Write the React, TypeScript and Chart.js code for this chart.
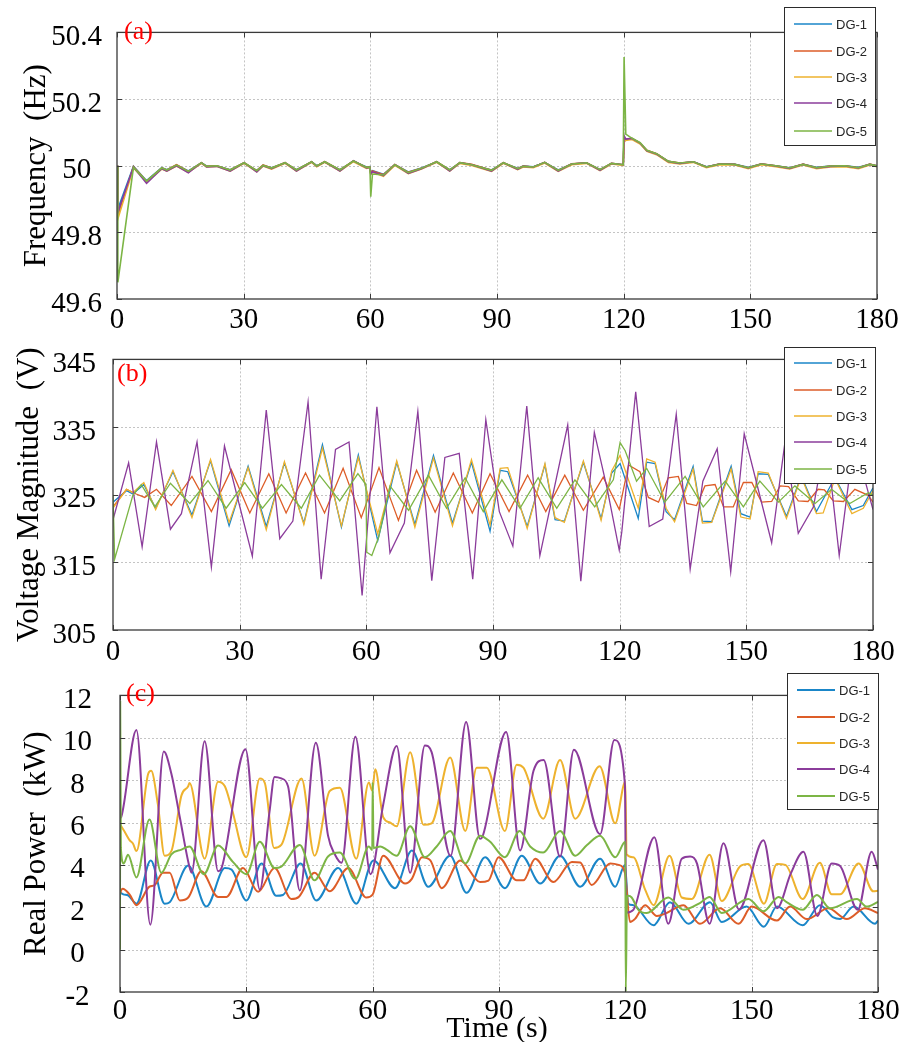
import React, { useEffect, useRef } from 'react';
import { Chart, registerables } from 'chart.js';

Chart.register(...registerables);

const SERIF = '"Liberation Serif", "Times New Roman", serif';
const SANS = '"Liberation Sans", Arial, sans-serif';

const seriesNames = ['DG-1', 'DG-2', 'DG-3', 'DG-4', 'DG-5'];
const seriesColors = ['#1a86c8', '#dd5d28', '#eeb22e', '#8b3c9b', '#7cb545'];

const timeTicks = [0, 30, 60, 90, 120, 150, 180];
const freqTicks = [49.6, 49.8, 50, 50.2, 50.4];
const voltTicks = [305, 315, 325, 335, 345];
const powerTicks = [-2, 0, 2, 4, 6, 8, 10, 12];

// ---------- (a) Frequency (Hz) ----------
const freqTime = [
  0, 0.2, 3.9, 7.0, 10.6, 11.8, 14.1, 16.9, 20.0, 21.2,
  23.6, 26.8, 30.1, 33.1, 34.6, 36.6, 39.8, 42.5, 46.1, 47.3,
  49.2, 52.8, 56.0, 59.1, 59.9, 60.1, 60.5, 63.1, 65.8, 69.0,
  72.1, 75.7, 78.8, 81.2, 84.0, 88.7, 91.5, 94.9, 96.2, 98.6,
  101.3, 104.5, 107.7, 111.2, 114.4, 117.1, 119.9, 120.1, 120.5, 121.9,
  123.9, 125.5, 127.8, 130.6, 133.3, 136.5, 139.6, 142.8, 146.3, 149.5,
  152.6, 156.0, 159.3, 162.5, 165.7, 169.0, 172.4, 175.6, 178.3, 180,
];
const freqDG1 = [
  50.0, 49.87, 49.998, 49.955, 49.994, 49.988, 50.002, 49.984, 50.008, 49.999,
  50.0, 49.988, 50.008, 49.986, 50.001, 49.994, 50.008, 49.988, 50.011, 50.0,
  50.011, 49.988, 50.013, 49.996, 49.997, 49.978, 49.985, 49.974, 50.003, 49.981,
  49.993, 50.011, 49.988, 50.008, 50.003, 49.987, 50.008, 49.992, 49.999, 49.997,
  50.009, 49.987, 50.005, 50.008, 49.989, 50.006, 50.003, 50.085, 50.078, 50.081,
  50.067, 50.045, 50.035, 50.013, 50.007, 50.012, 49.997, 50.005, 50.004, 49.995,
  50.005, 50.0, 49.994, 50.004, 49.995, 49.999, 50.0, 49.995, 50.004, 50.0,
];
const freqDG2 = [
  50.0, 49.85, 49.997, 49.953, 49.993, 49.987, 50.003, 49.983, 50.009, 49.998,
  50.0, 49.987, 50.009, 49.985, 50.002, 49.993, 50.009, 49.987, 50.012, 49.999,
  50.012, 49.987, 50.014, 49.995, 49.996, 49.977, 49.984, 49.973, 50.004, 49.98,
  49.992, 50.012, 49.987, 50.009, 50.004, 49.986, 50.009, 49.991, 49.999, 49.996,
  50.01, 49.986, 50.006, 50.009, 49.988, 50.007, 50.003, 50.07, 50.079, 50.082,
  50.068, 50.046, 50.036, 50.013, 50.008, 50.012, 49.996, 50.006, 50.004, 49.994,
  50.006, 50.0, 49.993, 50.005, 49.994, 49.999, 50.0, 49.994, 50.005, 50.0,
];
const freqDG3 = [
  50.0, 49.84, 49.993, 49.952, 49.99, 49.984, 49.999, 49.98, 50.007, 49.996,
  49.998, 49.984, 50.007, 49.982, 49.999, 49.99, 50.007, 49.984, 50.01, 49.997,
  50.01, 49.984, 50.012, 49.992, 49.994, 49.974, 49.981, 49.968, 50.001, 49.976,
  49.99, 50.01, 49.984, 50.007, 50.001, 49.983, 50.007, 49.988, 49.996, 49.994,
  50.008, 49.983, 50.003, 50.007, 49.985, 50.005, 50.001, 50.08, 50.076, 50.079,
  50.065, 50.043, 50.033, 50.01, 50.005, 50.01, 49.994, 50.003, 50.002, 49.991,
  50.003, 49.997, 49.99, 50.002, 49.991, 49.996, 49.997, 49.991, 50.002, 49.997,
];
const freqDG4 = [
  50.0, 49.86, 49.996, 49.947, 49.991, 49.984, 50.0, 49.979, 50.009, 49.996,
  49.998, 49.984, 50.009, 49.981, 50.0, 49.991, 50.009, 49.984, 50.012, 49.998,
  50.012, 49.984, 50.015, 49.993, 49.995, 49.975, 49.982, 49.97, 50.003, 49.977,
  49.991, 50.012, 49.984, 50.009, 50.003, 49.984, 50.009, 49.989, 49.998, 49.996,
  50.01, 49.984, 50.005, 50.009, 49.986, 50.007, 50.003, 50.09, 50.08, 50.082,
  50.068, 50.045, 50.035, 50.012, 50.007, 50.012, 49.996, 50.005, 50.004, 49.993,
  50.005, 49.999, 49.992, 50.004, 49.993, 49.998, 49.999, 49.993, 50.004, 49.999,
];
const freqDG5 = [
  50.0, 49.65, 49.995, 49.954, 49.993, 49.987, 50.002, 49.983, 50.009, 49.998,
  50.0, 49.987, 50.009, 49.985, 50.001, 49.993, 50.009, 49.987, 50.012, 49.999,
  50.012, 49.987, 50.014, 49.995, 49.996, 49.907, 49.975, 49.972, 50.003, 49.979,
  49.992, 50.012, 49.987, 50.009, 50.003, 49.986, 50.009, 49.991, 49.998, 49.996,
  50.01, 49.986, 50.005, 50.009, 49.988, 50.007, 50.003, 50.326, 50.095, 50.083,
  50.069, 50.046, 50.036, 50.013, 50.008, 50.012, 49.996, 50.005, 50.004, 49.994,
  50.005, 50.0, 49.993, 50.004, 49.994, 49.999, 50.0, 49.994, 50.004, 50.0,
];

// ---------- (b) Voltage Magnitude (V): [time, value] vertices ----------
const voltDG1 = [
  [0, 323.9], [3.2, 325.6], [4.7, 325.1], [7.3, 326.5], [10.1, 323.0], [14.2, 328.4], [18.7, 322.0],
  [23.1, 330.0], [27.5, 320.4], [32.0, 329.2], [36.3, 320.3], [40.6, 329.7], [45.2, 320.8], [49.6, 332.4],
  [54.1, 320.2], [58.1, 330.9], [62.7, 318.2], [67.2, 329.8], [71.5, 320.6], [75.9, 330.8], [80.4, 320.8],
  [84.9, 329.8], [89.3, 319.6], [91.7, 328.6], [93.5, 328.4], [98.1, 320.3], [102.3, 329.4], [104.7, 321.3],
  [106.9, 321.1], [111.4, 329.8], [115.6, 321.5], [118.1, 328.2], [120.1, 329.6], [124.4, 321.5], [126.4, 329.8],
  [128.4, 329.6], [131.0, 322.5], [133.0, 321.3], [137.4, 329.2], [139.6, 321.1], [141.8, 321.0], [146.4, 329.2],
  [148.7, 322.2], [150.9, 321.7], [152.8, 328.1], [155.2, 328.0], [159.5, 321.8], [163.0, 327.8], [166.6, 322.5],
  [171.0, 327.5], [175.0, 322.8], [177.7, 323.4], [180, 326.0],
];
const voltDG2 = [
  [0, 323.2], [3.2, 325.8], [5.5, 325.1], [7.5, 324.6], [10.3, 325.8], [13.8, 323.4], [18.7, 327.7],
  [23.3, 322.5], [28.0, 328.7], [32.4, 322.3], [36.9, 328.1], [41.0, 322.3], [45.6, 328.2], [50.1, 322.3],
  [54.5, 328.9], [58.8, 321.6], [63.0, 329.0], [67.6, 321.2], [71.9, 328.6], [76.3, 322.4], [80.6, 328.2],
  [85.1, 322.3], [89.3, 328.1], [93.8, 322.5], [98.2, 327.9], [102.5, 322.5], [107.0, 327.9], [111.4, 322.7],
  [116.1, 327.6], [119.9, 322.8], [122.1, 329.4], [124.8, 328.4], [126.8, 324.6], [129.2, 323.9], [131.5, 327.5],
  [133.9, 327.7], [135.9, 323.7], [138.2, 323.4], [140.2, 326.3], [142.6, 326.5], [144.6, 323.2], [146.9, 323.2],
  [149.3, 326.8], [151.3, 326.8], [153.6, 323.9], [156.0, 324.0], [158.0, 326.3], [160.0, 326.2], [162.3, 324.1],
  [164.6, 324.0], [167.0, 325.8], [168.5, 325.7], [170.6, 324.1], [173.0, 324.0], [175.7, 325.8], [178.9, 324.9],
  [180, 323.9],
];
const voltDG3 = [
  [0, 323.0], [3.2, 325.8], [4.7, 325.3], [7.3, 326.8], [10.1, 322.8], [14.2, 328.6], [18.7, 321.6],
  [23.1, 330.2], [27.5, 320.9], [32.0, 329.0], [36.3, 319.8], [40.6, 329.9], [45.2, 320.6], [49.6, 331.9],
  [54.1, 320.4], [58.1, 330.5], [62.7, 319.2], [67.2, 330.0], [71.5, 320.2], [75.9, 330.4], [80.4, 320.4],
  [84.9, 330.2], [89.3, 320.5], [91.7, 328.9], [93.5, 329.0], [98.1, 320.0], [102.3, 329.6], [104.7, 321.6],
  [106.9, 320.9], [111.4, 330.0], [115.6, 321.2], [118.1, 328.5], [120.1, 330.8], [124.4, 323.0], [126.4, 330.3],
  [128.4, 329.8], [131.0, 323.0], [133.0, 321.0], [137.4, 328.8], [139.6, 320.8], [141.8, 320.9], [146.4, 328.8],
  [148.7, 321.7], [150.9, 321.4], [152.8, 328.4], [155.2, 328.2], [159.5, 321.5], [163.0, 327.6], [166.6, 322.2],
  [168.2, 322.3], [171.0, 327.4], [175.0, 322.2], [177.7, 323.0], [180, 325.6],
];
const voltDG4 = [
  [0, 321.3], [3.7, 329.7], [6.9, 317.3], [10.3, 332.8], [13.6, 319.9], [16.2, 322.2], [19.9, 332.8],
  [23.3, 314.3], [26.4, 332.2], [33.0, 315.9], [36.3, 337.5], [39.5, 318.5], [42.6, 321.1], [46.2, 338.7],
  [49.3, 312.5], [52.7, 331.7], [55.9, 332.8], [59.0, 310.1], [62.5, 338.0], [65.6, 316.4], [69.0, 320.8],
  [72.2, 337.3], [75.5, 312.3], [78.6, 330.5], [82.0, 331.1], [85.2, 312.5], [88.3, 336.1], [91.5, 322.5],
  [94.7, 317.4], [98.0, 338.1], [101.1, 316.0], [107.7, 335.3], [110.8, 312.2], [114.0, 334.2], [117.0, 326.0],
  [119.9, 316.8], [120.5, 319.5], [123.8, 340.2], [127.0, 320.3], [130.2, 321.4], [133.4, 336.9], [136.7, 314.0],
  [139.7, 327.0], [143.1, 331.8], [146.3, 313.6], [149.5, 334.0], [156.0, 317.9], [159.2, 333.0], [162.3, 319.3],
  [165.9, 323.2], [168.9, 333.5], [172.0, 316.0], [175.5, 333.0], [180, 322.8],
];
const voltDG5 = [
  [0, 325.0], [0.4, 315.5], [4.7, 324.9], [6.7, 326.5], [9.9, 323.2], [13.6, 326.7], [18.2, 323.7],
  [22.5, 327.1], [26.8, 323.0], [31.2, 326.8], [35.4, 323.0], [39.9, 326.5], [44.6, 323.0], [48.9, 327.9],
  [53.7, 324.1], [58.0, 328.1], [59.9, 326.5], [60.1, 316.5], [61.3, 316.0], [62.9, 318.7], [65.6, 326.3],
  [70.0, 322.7], [74.7, 327.9], [79.0, 323.0], [83.4, 327.5], [87.7, 322.5], [92.1, 327.2], [96.4, 323.0],
  [100.7, 327.5], [105.1, 323.0], [109.4, 327.2], [114.1, 323.2], [118.5, 327.2], [120.1, 332.7], [121.3, 331.5],
  [124.0, 327.0], [126.4, 328.9], [130.7, 323.9], [135.5, 327.7], [139.8, 323.2], [145.0, 327.0], [149.3, 323.2],
  [153.2, 327.0], [157.6, 323.9], [161.5, 326.3], [166.3, 323.7], [170.2, 325.8], [174.5, 323.7], [178.9, 325.3],
  [180, 324.9],
];

// ---------- (c) Real Power (kW): [time, value] vertices ----------
const powerDG1 = [
  [0, 2.7], [0.8, 2.61], [2.0, 2.55], [3.9, 2.17], [7.3, 4.21], [10.6, 2.17], [11.8, 2.24], [16.2, 3.97],
  [20.5, 2.03], [24.9, 3.85], [26.5, 3.78], [30.0, 2.32], [33.6, 4.07], [37.1, 2.54], [38.7, 2.58], [42.9, 4.07],
  [46.6, 2.32], [51.8, 3.85], [56.1, 2.17], [60.2, 4.21], [65.3, 2.9], [69.3, 4.68], [73.2, 2.97], [78.4, 4.43],
  [82.3, 2.68], [86.7, 4.36], [91.4, 2.9], [95.4, 4.43], [99.8, 3.12], [104.5, 4.43], [109.3, 2.97], [114.0, 4.29],
  [117.6, 2.97], [119.9, 4.0], [120.7, 2.17], [121.9, 2.1], [126.7, 1.15], [130.6, 2.24], [135.0, 1.22],
  [140.1, 2.24], [142.9, 1.3], [148.8, 2.03], [152.9, 1.08], [156.0, 2.03], [162.1, 1.15], [166.2, 2.1],
  [169.4, 1.52], [171.0, 1.45], [174.2, 2.03], [179.3, 1.22], [180, 1.37],
];
const powerDG2 = [
  [0, 2.6], [0.2, 2.76], [0.6, 2.87], [2.3, 2.6], [3.9, 2.1], [7.0, 2.97], [8.2, 3.04], [10.2, 3.63],
  [11.8, 3.63], [14.2, 2.32], [16.2, 2.46], [19.3, 3.7], [23.3, 2.49], [25.3, 2.49], [29.2, 3.85], [32.8, 2.73],
  [36.7, 3.85], [40.7, 2.39], [42.5, 2.5], [46.2, 3.63], [49.8, 2.76], [54.2, 3.85], [58.5, 2.46], [60.0, 2.6],
  [62.5, 4.43], [67.7, 3.12], [69.3, 3.34], [71.7, 4.36], [73.7, 4.21], [76.4, 2.9], [80.8, 4.21], [85.5, 3.19],
  [87.5, 3.26], [89.9, 4.36], [94.2, 3.27], [95.8, 3.27], [98.6, 4.29], [102.9, 3.19], [107.3, 4.14],
  [109.3, 4.11], [112.0, 3.05], [116.4, 4.07], [118.4, 4.0], [119.9, 3.63], [121.1, 1.3], [122.3, 1.45],
  [124.7, 2.1], [127.5, 1.59], [129.8, 1.73], [133.8, 2.1], [137.7, 1.22], [142.5, 1.95], [146.9, 1.22],
  [150.0, 2.03], [156.0, 1.37], [159.1, 2.03], [163.1, 1.44], [168.2, 1.95], [172.6, 1.44], [176.9, 1.95],
  [180, 1.73],
];
const powerDG3 = [
  [0, 5.9], [0.3, 5.82], [1.0, 5.6], [2.3, 5.16], [3.1, 5.0], [3.9, 4.65], [6.7, 8.3], [7.4, 8.44],
  [9.0, 6.84], [10.6, 4.43], [12.2, 4.65], [14.6, 7.28], [16.2, 7.71], [16.5, 7.86], [20.1, 4.29], [23.3, 7.93],
  [24.9, 7.71], [26.5, 6.7], [30.0, 4.36], [33.2, 8.08], [34.4, 7.86], [36.6, 4.8], [38.3, 4.94], [43.1, 8.08],
  [46.2, 4.43], [49.8, 7.49], [52.2, 7.64], [56.1, 4.29], [59.1, 7.89], [59.9, 7.5], [60.6, 8.51], [62.5, 6.25],
  [64.1, 6.0], [65.7, 5.82], [68.9, 9.32], [72.1, 5.89], [74.0, 5.96], [78.4, 9.07], [82.0, 5.6], [84.7, 8.59],
  [87.1, 8.59], [91.4, 5.6], [94.2, 8.73], [95.8, 8.59], [100.5, 6.18], [104.5, 8.95], [108.1, 6.18],
  [113.9, 8.66], [117.6, 5.96], [120.0, 7.93], [120.3, 4.5], [121.9, 4.36], [124.7, 2.83], [126.7, 2.1],
  [130.5, 4.43], [133.4, 2.46], [135.8, 2.39], [140.0, 4.48], [142.9, 2.29], [147.2, 3.92], [149.2, 4.04],
  [152.9, 2.17], [156.0, 4.04], [158.0, 4.0], [162.1, 2.39], [166.2, 4.1], [169.0, 2.61], [171.0, 2.61],
  [175.4, 4.07], [178.9, 2.75], [180, 2.78],
];
const powerDG4 = [
  [0, 6.2], [0.3, 6.26], [3.9, 10.37], [7.2, 1.18], [10.4, 9.35], [12.2, 8.3], [14.2, 6.25], [16.5, 3.9],
  [17.0, 3.63], [20.1, 9.83], [23.3, 3.7], [24.2, 3.9], [29.8, 9.46], [33.2, 2.83], [35.5, 6.5], [36.7, 8.15],
  [38.3, 8.08], [39.9, 7.71], [42.7, 2.79], [46.5, 9.76], [49.4, 5.38], [51.0, 4.5], [52.6, 4.1], [55.9, 10.05],
  [59.5, 3.56], [62.5, 6.84], [65.7, 9.61], [68.9, 3.63], [72.4, 9.64], [74.0, 9.32], [78.5, 4.43],
  [82.2, 10.75], [85.5, 5.23], [86.0, 5.3], [91.7, 10.27], [95.0, 4.68], [98.2, 8.44], [100.6, 8.95],
  [104.5, 4.39], [107.8, 9.43], [114.0, 5.45], [117.4, 9.9], [119.9, 7.8], [120.2, 1.75], [121.9, 1.88],
  [126.9, 5.31], [130.2, 1.22], [133.4, 4.29], [135.4, 4.39], [137.0, 4.07], [140.0, 1.22], [143.3, 5.02],
  [147.0, 1.9], [152.8, 5.16], [156.0, 1.95], [159.3, 3.6], [162.3, 4.62], [165.6, 1.59], [169.0, 4.07],
  [171.0, 3.95], [175.2, 1.88], [178.5, 4.62], [180, 3.78],
];
const powerDG5 = [
  [0, 0.0], [0.05, 11.7], [0.2, 4.8], [0.9, 4.07], [1.9, 4.48], [3.9, 3.41], [7.0, 6.14], [9.8, 3.63],
  [12.2, 4.5], [14.6, 4.72], [16.5, 4.87], [19.9, 3.56], [23.3, 4.91], [26.8, 4.14], [30.0, 3.56], [33.2, 5.09],
  [36.7, 3.85], [38.3, 3.92], [42.7, 4.94], [46.2, 3.27], [49.4, 4.4], [52.2, 4.58], [55.9, 3.34], [59.1, 4.87],
  [59.9, 4.7], [60.0, 7.9], [60.2, 4.8], [61.8, 4.87], [63.3, 4.72], [65.7, 4.43], [68.9, 5.82], [72.4, 4.36],
  [75.2, 4.87], [78.4, 5.6], [82.0, 4.07], [85.5, 5.38], [87.9, 5.09], [91.4, 4.36], [94.9, 5.6], [97.4, 4.87],
  [100.5, 4.58], [104.5, 5.6], [108.1, 4.43], [110.9, 4.94], [114.0, 5.38], [117.6, 4.36], [120.0, 5.09],
  [120.1, -2.0], [120.4, 2.5], [120.7, 2.54], [121.5, 2.46], [123.1, 1.88], [125.1, 1.73], [130.2, 2.46],
  [133.8, 1.88], [137.7, 2.2], [140.0, 2.49], [142.9, 1.73], [149.2, 2.39], [152.8, 1.81], [156.4, 2.49],
  [158.3, 2.24], [162.1, 1.88], [165.5, 2.58], [168.6, 1.95], [175.0, 2.39], [177.3, 2.03], [180, 2.25],
];

type Legend = { x: number; y: number; w: number; h: number; rows: number[] };
type Panel = {
  top: number;
  height: number;
  plotTop: number;
  plotBottom: number;
  plotLeft: number;
  plotRight: number;
  yMin: number;
  yMax: number;
  yTicks: number[];
  yTitle: string;
  titlePad: number;
  yTickPad: number;
  xTickPad: number;
  label: string;
  labelX: number;
  labelY: number;
  legend: Legend;
  lineWidth: number;
  smooth: boolean;
  series: { x: number; y: number }[][];
  xTitle?: { text: string; x: number; y: number };
};

const pairs = (arr: number[][]) => arr.map(([x, y]) => ({ x, y }));
const zip = (t: number[], v: number[]) => t.map((x, i) => ({ x, y: v[i] }));

const panels: Panel[] = [
  {
    top: 0, height: 335, plotTop: 13, plotBottom: 299, plotLeft: 117, plotRight: 877,
    yMin: 49.6, yMax: 50.4, yTicks: freqTicks, yTitle: 'Frequency  (Hz)',
    titlePad: 18, yTickPad: 15, xTickPad: 4,
    label: '(a)', labelX: 124, labelY: 19,
    legend: { x: 784, y: 7, w: 91, h: 138, rows: [17, 44, 70, 96, 124] },
    lineWidth: 1.6, smooth: false,
    series: [zip(freqTime, freqDG1), zip(freqTime, freqDG2), zip(freqTime, freqDG3), zip(freqTime, freqDG4), zip(freqTime, freqDG5)],
  },
  {
    top: 325, height: 340, plotTop: 348, plotBottom: 630, plotLeft: 113, plotRight: 873,
    yMin: 305, yMax: 345, yTicks: voltTicks, yTitle: 'Voltage Magnitude  (V)',
    titlePad: 11, yTickPad: 17, xTickPad: 5,
    label: '(b)', labelX: 117, labelY: 36,
    legend: { x: 784, y: 22, w: 91, h: 136, rows: [16, 43, 69, 95, 122] },
    lineWidth: 1.3, smooth: false,
    series: [pairs(voltDG1), pairs(voltDG2), pairs(voltDG3), pairs(voltDG4), pairs(voltDG5)],
  },
  {
    top: 650, height: 392, plotTop: 672, plotBottom: 992, plotLeft: 120, plotRight: 878,
    yMin: -2, yMax: 12, yTicks: powerTicks, yTitle: 'Real Power  (kW)',
    titlePad: 18, yTickPad: 28, xTickPad: 2,
    label: '(c)', labelX: 126, labelY: 31,
    legend: { x: 787, y: 23, w: 91, h: 136, rows: [17, 44, 70, 96, 123] },
    lineWidth: 2, smooth: true,
    series: [pairs(powerDG1), pairs(powerDG2), pairs(powerDG3), pairs(powerDG4), pairs(powerDG5)],
    xTitle: { text: 'Time (s)', x: 497, y: 379 },
  },
];

function buildChart(canvas: HTMLCanvasElement, p: Panel) {
  const decor = {
    id: 'panelDecor',
    beforeDatasetsDraw(chart: any) {
      const { ctx, chartArea: a } = chart;
      const xs = chart.scales.x;
      const ys = chart.scales.y;
      ctx.save();
      ctx.strokeStyle = '#c4c4c4';
      ctx.lineWidth = 1;
      ctx.setLineDash([2, 2]);
      for (const v of timeTicks) {
        if (v === 0 || v === 180) continue;
        const px = Math.round(xs.getPixelForValue(v)) + 0.5;
        ctx.beginPath();
        ctx.moveTo(px, a.top);
        ctx.lineTo(px, a.bottom);
        ctx.stroke();
      }
      for (const v of p.yTicks) {
        if (v === p.yMin || v === p.yMax) continue;
        const py = Math.round(ys.getPixelForValue(v)) + 0.5;
        ctx.beginPath();
        ctx.moveTo(a.left, py);
        ctx.lineTo(a.right, py);
        ctx.stroke();
      }
      ctx.restore();
    },
    afterDatasetsDraw(chart: any) {
      const { ctx, chartArea: a } = chart;
      const xs = chart.scales.x;
      const ys = chart.scales.y;
      ctx.save();
      // axes box
      ctx.strokeStyle = '#3a3a3a';
      ctx.lineWidth = 1.3;
      ctx.setLineDash([]);
      ctx.strokeRect(a.left, a.top, a.right - a.left, a.bottom - a.top);
      // inward tick marks
      ctx.lineWidth = 1;
      const tl = 5;
      for (const v of timeTicks) {
        const px = Math.round(xs.getPixelForValue(v)) + 0.5;
        ctx.beginPath();
        ctx.moveTo(px, a.bottom);
        ctx.lineTo(px, a.bottom - tl);
        ctx.moveTo(px, a.top);
        ctx.lineTo(px, a.top + tl);
        ctx.stroke();
      }
      for (const v of p.yTicks) {
        const py = Math.round(ys.getPixelForValue(v)) + 0.5;
        ctx.beginPath();
        ctx.moveTo(a.left, py);
        ctx.lineTo(a.left + tl, py);
        ctx.moveTo(a.right, py);
        ctx.lineTo(a.right - tl, py);
        ctx.stroke();
      }
      // panel label
      ctx.fillStyle = '#ff0000';
      ctx.font = `26px ${SERIF}`;
      ctx.textAlign = 'left';
      ctx.textBaseline = 'top';
      ctx.fillText(p.label, p.labelX, p.labelY);
      // legend
      const L = p.legend;
      ctx.fillStyle = '#ffffff';
      ctx.fillRect(L.x, L.y, L.w, L.h);
      ctx.strokeStyle = '#2b2b2b';
      ctx.lineWidth = 1;
      ctx.strokeRect(L.x + 0.5, L.y + 0.5, L.w, L.h);
      ctx.font = `13px ${SANS}`;
      ctx.textBaseline = 'middle';
      seriesNames.forEach((name, i) => {
        const yy = L.y + L.rows[i];
        ctx.strokeStyle = seriesColors[i];
        ctx.lineWidth = p.lineWidth;
        ctx.beginPath();
        ctx.moveTo(L.x + 10, yy);
        ctx.lineTo(L.x + 48, yy);
        ctx.stroke();
        ctx.fillStyle = '#262626';
        ctx.fillText(name, L.x + 52, yy + 1);
      });
      if (p.xTitle) {
        ctx.fillStyle = '#000';
        ctx.font = `30px ${SERIF}`;
        ctx.textAlign = 'center';
        ctx.textBaseline = 'middle';
        ctx.fillText(p.xTitle.text, p.xTitle.x, p.xTitle.y);
      }
      ctx.restore();
    },
  };

  const datasets = p.series.map((data, i) => ({
    label: seriesNames[i],
    data,
    borderColor: seriesColors[i],
    backgroundColor: seriesColors[i],
    borderWidth: p.lineWidth,
    pointRadius: 0,
    fill: false,
    tension: 0,
    cubicInterpolationMode: p.smooth ? ('monotone' as const) : ('default' as const),
    order: 5 - i,
  }));

  return new Chart(canvas, {
    type: 'line',
    data: { datasets },
    plugins: [decor],
    options: {
      animation: false,
      responsive: false,
      maintainAspectRatio: false,
      events: [],
      layout: { padding: { top: p.plotTop - p.top, right: 919 - p.plotRight, left: 0, bottom: 0 } },
      plugins: { legend: { display: false }, tooltip: { enabled: false }, title: { display: false } },
      scales: {
        x: {
          type: 'linear',
          min: 0,
          max: 180,
          afterBuildTicks: (s: any) => {
            s.ticks = timeTicks.map((v) => ({ value: v }));
          },
          afterFit: (s: any) => {
            s.height = p.top + p.height - p.plotBottom;
          },
          ticks: {
            autoSkip: false,
            maxRotation: 0,
            padding: p.xTickPad,
            color: '#000',
            font: { family: SERIF, size: 29 },
            callback: (v: any) => String(v),
          },
          grid: { display: false, drawTicks: false },
          border: { display: false },
        },
        y: {
          type: 'linear',
          min: p.yMin,
          max: p.yMax,
          afterBuildTicks: (s: any) => {
            s.ticks = p.yTicks.map((v) => ({ value: v }));
          },
          afterFit: (s: any) => {
            s.width = p.plotLeft;
          },
          ticks: {
            crossAlign: 'center',
            padding: p.yTickPad,
            labelOffset: 5,
            color: '#000',
            font: { family: SERIF, size: 29 },
            callback: (v: any) => String(v),
          },
          title: {
            display: true,
            text: p.yTitle,
            color: '#000',
            font: { family: SERIF, size: 31 },
            padding: { top: p.titlePad, bottom: 0 },
          },
          grid: { display: false, drawTicks: false },
          border: { display: false },
        },
      },
    },
  } as any);
}

function PanelChart({ p }: { p: Panel }) {
  const ref = useRef<HTMLCanvasElement | null>(null);
  useEffect(() => {
    if (!ref.current) return;
    const chart = buildChart(ref.current, p);
    return () => chart.destroy();
  }, [p]);
  return (
    <canvas
      ref={ref}
      width={919}
      height={p.height}
      style={{ position: 'absolute', left: 0, top: p.top, width: 919, height: p.height }}
    />
  );
}

export default function App() {
  return (
    <div style={{ position: 'absolute', left: 0, top: 0, width: 919, height: 1042, background: '#ffffff', overflow: 'hidden' }}>
      {panels.map((p, i) => (
        <PanelChart key={i} p={p} />
      ))}
    </div>
  );
}
